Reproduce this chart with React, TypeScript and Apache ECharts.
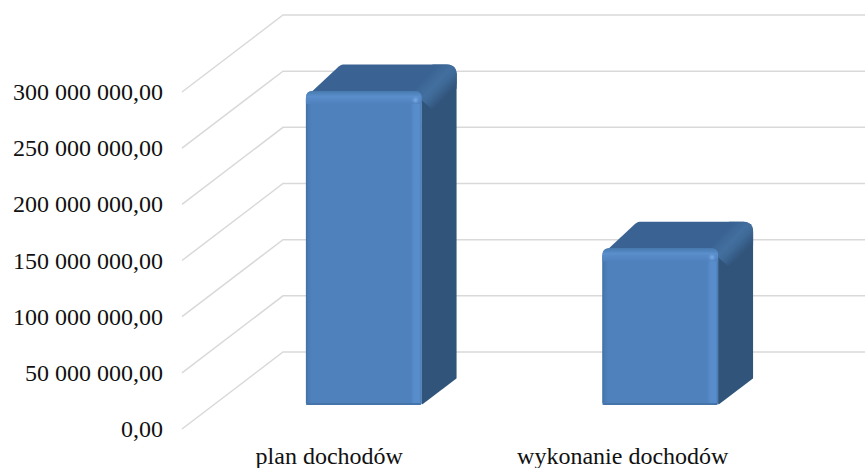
import React, { useEffect, useRef } from "react";
import * as echarts from "echarts";

const categories = ["plan dochodów", "wykonanie dochodów"];
const values = [279500000, 139500000];
const ticks = [0, 50000000, 100000000, 150000000, 200000000, 250000000, 300000000];

const WALL_DX = 101;
const WALL_DY = 77;
const BAR_DX = 33.5;
const BAR_DY = 24;
const DEPTH_DX = 35;
const DEPTH_DY = 26.5;

const G = (x0: number, y0: number, x1: number, y1: number, stops: [number, string][]) =>
  new echarts.graphic.LinearGradient(x0, y0, x1, y1, stops.map(([offset, color]) => ({ offset, color })));

function rounded(pts: number[][], radii: number[]) {
  const out: number[][] = [];
  const n = pts.length;
  pts.forEach((p, i) => {
    const r = radii[i];
    if (!r) { out.push(p); return; }
    const a = pts[(i + n - 1) % n];
    const b = pts[(i + 1) % n];
    const la = Math.hypot(a[0] - p[0], a[1] - p[1]);
    const lb = Math.hypot(b[0] - p[0], b[1] - p[1]);
    const s = [p[0] + ((a[0] - p[0]) * r) / la, p[1] + ((a[1] - p[1]) * r) / la];
    const e = [p[0] + ((b[0] - p[0]) * r) / lb, p[1] + ((b[1] - p[1]) * r) / lb];
    for (let k = 0; k <= 6; k++) {
      const t = k / 6;
      out.push([
        (1 - t) * (1 - t) * s[0] + 2 * t * (1 - t) * p[0] + t * t * e[0],
        (1 - t) * (1 - t) * s[1] + 2 * t * (1 - t) * p[1] + t * t * e[1],
      ]);
    }
  });
  return out;
}

const fmt = (v: number) => String(v).replace(/\B(?=(\d{3})+(?!\d))/g, " ") + ",00";

export default function App() {
  const ref = useRef<HTMLDivElement>(null);
  useEffect(() => {
    const chart = echarts.init(ref.current!, undefined, { renderer: "svg" });
    chart.setOption({
      animation: false,
      backgroundColor: "#ffffff",
      grid: { left: 182, right: 90, top: 92, bottom: 39, containLabel: false },
      xAxis: {
        type: "category",
        data: categories,
        axisLine: { show: false },
        axisTick: { show: false },
        axisLabel: {
          interval: 0,
          hideOverlap: false,
          margin: 15,
          color: "#111",
          fontFamily: "Liberation Serif",
          fontSize: 24,
          formatter: (v: string, i: number) => `{l${i}|${v}}`,
          rich: {
            l0: { fontFamily: "Liberation Serif", fontSize: 24, color: "#111", padding: [0, 2, 0, 0] },
            l1: { fontFamily: "Liberation Serif", fontSize: 24, color: "#111", padding: [0, 8, 0, 0] },
          },
        },
      },
      yAxis: {
        type: "value",
        min: 0,
        max: 300000000,
        interval: 50000000,
        axisLine: { show: false },
        axisTick: { show: false },
        splitLine: { show: false },
        axisLabel: {
          margin: 19,
          color: "#111",
          fontFamily: "Liberation Serif",
          fontSize: 24,
          formatter: fmt,
        },
      },
      series: [
        {
          type: "custom",
          silent: true,
          data: ticks.map((t) => [0, t]),
          encode: { x: 0, y: 1 },
          renderItem: (params: any, api: any) => {
            const y = api.coord([0, api.value(1)])[1];
            const x0 = params.coordSys.x;
            return {
              type: "polyline",
              shape: { points: [[x0, y], [x0 + WALL_DX, y - WALL_DY], [900, y - WALL_DY]] },
              style: { stroke: "#d9d9d9", lineWidth: 1.5, fill: "none" },
            };
          },
        },
        {
          type: "custom",
          silent: true,
          data: values.map((v, i) => [i, v]),
          encode: { x: 0, y: 1 },
          renderItem: (_: any, api: any) => {
            const top = api.coord([api.value(0), api.value(1)]);
            const base = api.coord([api.value(0), 0]);
            const w = api.size([1, 0])[0] * 0.39;
            const cx = top[0] + BAR_DX;
            const L = cx - w / 2;
            const R = cx + w / 2;
            const T = top[1] - BAR_DY;
            const B = base[1] - BAR_DY;
            const bx = R + DEPTH_DX;
            const tby = T - DEPTH_DY;
            return {
              type: "group",
              children: [
                {
                  type: "polygon",
                  shape: { points: rounded([[L, T + 6], [L + DEPTH_DX, tby], [bx, tby], [bx, tby + 20], [R, T + 12]], [6, 3, 10, 0, 0]) },
                  style: { fill: "#3a6393" },
                },
                {
                  type: "polygon",
                  shape: { points: rounded([[R, T + 2], [bx, tby + 8], [bx, B - DEPTH_DY], [R, B]], [0, 0, 1, 2]) },
                  style: { fill: "#31547b" },
                },
                {
                  type: "polygon",
                  shape: { points: rounded([[R - 8, T + 2], [bx - 24, tby], [bx, tby], [bx, tby + 24], [R + 10, T + 18]], [0, 0, 10, 0, 0]) },
                  style: { fill: G(0, 0, 1, 1, [[0.28, "#3a6393"], [0.47, "#426f9f"], [0.56, "#3f6a98"], [0.74, "#31547b"]]) },
                },
                {
                  type: "polygon",
                  shape: { points: rounded([[L, T], [R, T], [R, B], [L, B]], [7, 7, 2, 1]) },
                  style: { fill: "#4f81bd" },
                },
                {
                  type: "rect",
                  shape: { x: L, y: T + 7, width: 6, height: B - T - 9 },
                  style: { fill: G(0, 0, 1, 0, [[0, "#41719f"], [0.4, "#4a7bb5"], [1, "#4f81bd"]]) },
                },
                {
                  type: "rect",
                  shape: { x: R - 11, y: T + 7, width: 11, height: B - T - 9 },
                  style: { fill: G(0, 0, 1, 0, [[0, "#4f81bd"], [0.35, "#588dcb"], [0.8, "#588dcb"], [1, "#4777ad"]]) },
                },
                {
                  type: "polygon",
                  shape: { points: rounded([[L, T], [R, T], [R, T + 13], [L, T + 13]], [7, 7, 0, 0]) },
                  style: { fill: G(0, 0, 0, 1, [[0, "#467aae"], [0.4, "#5a8ecc"], [1, "#4f81bd"]]) },
                },
                {
                  type: "rect",
                  shape: { x: L + 1, y: B - 2, width: w - 2, height: 2 },
                  style: { fill: "#4474aa" },
                },
                {
                  type: "circle",
                  shape: { cx: R - 6, cy: T + 9, r: 5 },
                  style: {
                    fill: new echarts.graphic.RadialGradient(0.5, 0.5, 0.5, [
                      { offset: 0, color: "#7db0ea" },
                      { offset: 1, color: "rgba(90,142,204,0)" },
                    ]),
                  },
                },
              ],
            };
          },
        },
      ],
    });
    return () => chart.dispose();
  }, []);
  return <div ref={ref} style={{ position: "absolute", left: 0, top: 0, width: 865, height: 468 }} />;
}
